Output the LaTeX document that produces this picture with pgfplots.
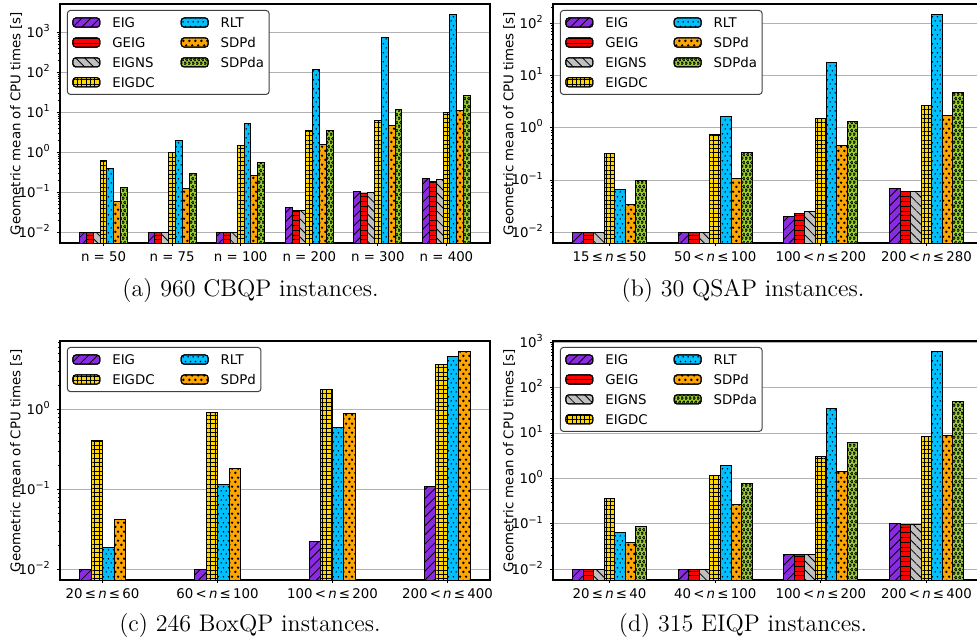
\documentclass[border=0pt]{standalone}
\usepackage{fontspec}
\usepackage{pgfplots}
\usepackage{pgfplotstable}
\pgfplotsset{compat=1.18}
\usetikzlibrary{patterns,patterns.meta}
\newfontfamily\dv{DejaVu Sans}
\newcommand\dvs{\dv\fontsize{6.67}{8}\selectfont}
\newcommand\tp[1]{10\raisebox{0.42em}{\fontsize{4.8}{5}\selectfont #1}}
\newcommand\nn{\textit{n}}

\definecolor{cEIG}{RGB}{138,43,226}
\definecolor{cGEIG}{RGB}{255,0,0}
\definecolor{cEIGNS}{RGB}{192,192,192}
\definecolor{cEIGDC}{RGB}{255,215,0}
\definecolor{cRLT}{RGB}{0,191,255}
\definecolor{cSDPd}{RGB}{255,165,0}
\definecolor{cSDPda}{RGB}{154,205,50}

\pgfdeclarepattern{name=rltdots, type=uncolored,
  bottom left={\pgfpoint{0pt}{0pt}}, top right={\pgfpoint{2.4pt}{4.3pt}},
  tile size={\pgfpoint{2.4pt}{4.3pt}},
  code={\pgfpathcircle{\pgfpoint{0.6pt}{1.075pt}}{0.42pt}
        \pgfpathcircle{\pgfpoint{1.8pt}{3.225pt}}{0.42pt}
        \pgfusepath{fill}}}
\pgfdeclarepattern{name=sdpddots, type=uncolored,
  bottom left={\pgfpoint{0pt}{0pt}}, top right={\pgfpoint{2.85pt}{4.35pt}},
  tile size={\pgfpoint{2.85pt}{4.35pt}},
  code={\pgfpathcircle{\pgfpoint{0.7125pt}{1.0875pt}}{0.68pt}
        \pgfpathcircle{\pgfpoint{2.1375pt}{3.2625pt}}{0.68pt}
        \pgfusepath{fill}}}
\pgfdeclarepattern{name=rings, type=uncolored,
  bottom left={\pgfpoint{0pt}{0pt}}, top right={\pgfpoint{2.2pt}{3.8pt}},
  tile size={\pgfpoint{2.2pt}{3.8pt}},
  code={\pgfsetlinewidth{0.4pt}
        \pgfpathcircle{\pgfpoint{0.55pt}{0.95pt}}{0.72pt}
        \pgfpathcircle{\pgfpoint{1.65pt}{2.85pt}}{0.72pt}
        \pgfusepath{stroke}}}

\tikzset{
 sEIG/.style={fill=cEIG, draw=black, line width=0.5pt, postaction={pattern={Lines[angle=45,distance=3.2pt,line width=0.4pt]}}},
 sGEIG/.style={fill=cGEIG, draw=black, line width=0.5pt, postaction={pattern={Lines[angle=0,distance=2.4pt,line width=0.4pt]}}},
 sEIGNS/.style={fill=cEIGNS, draw=black, line width=0.5pt, postaction={pattern={Lines[angle=-45,distance=3.2pt,line width=0.4pt]}}},
 sEIGDC/.style={fill=cEIGDC, draw=black, line width=0.5pt, postaction={pattern={Hatch[angle=0,distance=2.15pt,line width=0.35pt]}}},
 sRLT/.style={fill=cRLT, draw=black, line width=0.5pt, postaction={pattern=rltdots}},
 sSDPd/.style={fill=cSDPd, draw=black, line width=0.5pt, postaction={pattern=sdpddots}},
 sSDPda/.style={fill=cSDPda, draw=black, line width=0.5pt, postaction={pattern=rings}},
}

\pgfplotsset{
  every axis/.append style={
  scale only axis, width=215pt, height=119.5pt, anchor=south west,
  ybar=0pt, bar width=0.1,
  ymajorgrids, grid style={color=black!30, line width=0.5pt},
  axis line style={line width=0.55pt},
  tick align=outside, tick pos=left, major tick length=1.6pt, minor tick length=1pt,
  every tick/.style={black, line width=0.5pt},
  tick label style={font=\dvs},
  xticklabel style={inner sep=0pt, yshift=-2.35pt},
  yticklabel style={anchor=base east, inner sep=0pt, xshift=-3.35pt, yshift=-2.4pt},
  ylabel={Geometric mean of CPU times [s]},
  ylabel style={at={(axis description cs:-0.102,0.5)}, anchor=center, font=\dvs},
  legend columns=2, legend cell align=left,
  legend image code/.code={\draw[#1] (0pt,-2.3pt) rectangle (13.5pt,2.3pt); \path (19.5pt,0pt);},
  legend style={at={(0.016,0.975)}, anchor=north west, font=\dvs,
    draw=black!75, line width=0.5pt, rounded corners=1.5pt, fill=white,
    inner xsep=2.5pt, inner ysep=3.5pt, row sep=4.85pt,
    nodes={inner sep=0pt, text height=4.9pt, text depth=0pt},
    /tikz/every even column/.append style={column sep=13pt}},
  }
}

\pgfplotstableread{
x EIG GEIG EIGNS EIGDC RLT SDPd SDPda
0 0.01 0.01 0.01 0.63 0.40 0.060 0.133
1 0.01 0.01 0.01 1.00 2.0 0.126 0.287
2 0.01 0.01 0.01 1.44 5.2 0.26 0.56
3 0.0406 0.036 0.036 3.5 116 1.55 3.6
4 0.106 0.091 0.100 6.3 750 4.8 11.9
5 0.224 0.190 0.215 9.8 2820 11.2 26
}\tA
\pgfplotstableread{
x EIG GEIG EIGNS EIGDC RLT SDPd SDPda
0 0.01 0.01 0.01 0.326 0.0646 0.0344 0.100
1 0.01 0.01 0.01 0.76 1.66 0.108 0.34
2 0.0202 0.0234 0.0245 1.52 18 0.46 1.33
3 0.0696 0.060 0.060 2.7 149 1.74 4.8
}\tB
\pgfplotstableread{
x EIG EIGDC RLT SDPd
0 0.01 0.413 0.0189 0.0423
1 0.01 0.927 0.116 0.182
2 0.0226 1.8 0.60 0.90
3 0.108 3.73 4.7 5.38
}\tC
\pgfplotstableread{
x EIG GEIG EIGNS EIGDC RLT SDPd SDPda
0 0.01 0.01 0.01 0.366 0.0642 0.0394 0.0885
1 0.01 0.01 0.01 1.175 1.95 0.27 0.76
2 0.0214 0.0214 0.0214 3.08 34.6 1.42 6.27
3 0.103 0.095 0.095 8.5 622 8.94 49.3
}\tD

\begin{document}
\begin{tikzpicture}
\useasboundingbox (0,0) rectangle (488.5pt,321.5pt);
% (a)
\begin{axis}[ymode=log, log origin=infty,
  ytick={0.01,0.1,1,10,100,1000},
  yticklabels={\tp{−2},\tp{−1},\tp{0},\tp{1},\tp{2},\tp{3}},
  at={(30pt,200pt)}, xmin=-0.635, xmax=5.635,
  ymin=0.0054, ymax=5100,
  xtick={0,1,2,3,4,5},
  xticklabels={n = 50, n = 75, n = 100, n = 200, n = 300, n = 400}]
\addplot[sEIG, bar shift=-0.3] table[x=x,y=EIG]{\tA}; \addlegendentry{EIG}
\addplot[sRLT, bar shift=0.1] table[x=x,y=RLT]{\tA}; \addlegendentry{RLT}
\addplot[sGEIG, bar shift=-0.2] table[x=x,y=GEIG]{\tA}; \addlegendentry{GEIG}
\addplot[sSDPd, bar shift=0.2] table[x=x,y=SDPd]{\tA}; \addlegendentry{SDPd}
\addplot[sEIGNS, bar shift=-0.1] table[x=x,y=EIGNS]{\tA}; \addlegendentry{EIGNS}
\addplot[sSDPda, bar shift=0.3] table[x=x,y=SDPda]{\tA}; \addlegendentry{SDPda}
\addplot[sEIGDC, bar shift=0] table[x=x,y=EIGDC]{\tA}; \addlegendentry{EIGDC}
\end{axis}
% (b)
\begin{axis}[ymode=log, log origin=infty,
  ytick={0.01,0.1,1,10,100,1000},
  yticklabels={\tp{−2},\tp{−1},\tp{0},\tp{1},\tp{2},\tp{3}},
  at={(276.5pt,200pt)}, xmin=-0.535, xmax=3.535,
  ymin=0.00624, ymax=234,
  xtick={0,1,2,3},
  xticklabels={{15\,≤\,\nn\,≤\,50},{50\,<\,\nn\,≤\,100},{100\,<\,\nn\,≤\,200},{200\,<\,\nn\,≤\,280}}]
\addplot[sEIG, bar shift=-0.3] table[x=x,y=EIG]{\tB}; \addlegendentry{EIG}
\addplot[sRLT, bar shift=0.1] table[x=x,y=RLT]{\tB}; \addlegendentry{RLT}
\addplot[sGEIG, bar shift=-0.2] table[x=x,y=GEIG]{\tB}; \addlegendentry{GEIG}
\addplot[sSDPd, bar shift=0.2] table[x=x,y=SDPd]{\tB}; \addlegendentry{SDPd}
\addplot[sEIGNS, bar shift=-0.1] table[x=x,y=EIGNS]{\tB}; \addlegendentry{EIGNS}
\addplot[sSDPda, bar shift=0.3] table[x=x,y=SDPda]{\tB}; \addlegendentry{SDPda}
\addplot[sEIGDC, bar shift=0] table[x=x,y=EIGDC]{\tB}; \addlegendentry{EIGDC}
\end{axis}
% (c)
\begin{axis}[ymode=log, log origin=infty,
  ytick={0.01,0.1,1,10,100,1000},
  yticklabels={\tp{−2},\tp{−1},\tp{0},\tp{1},\tp{2},\tp{3}},
  at={(30pt,31.5pt)}, xmin=-0.37, xmax=3.37,
  ymin=0.00734, ymax=7.26,
  xtick={0,1,2,3},
  xticklabels={{20\,≤\,\nn\,≤\,60},{60\,<\,\nn\,≤\,100},{100\,<\,\nn\,≤\,200},{200\,<\,\nn\,≤\,400}}]
\addplot[sEIG, bar shift=-0.15] table[x=x,y=EIG]{\tC}; \addlegendentry{EIG}
\addplot[sRLT, bar shift=0.05] table[x=x,y=RLT]{\tC}; \addlegendentry{RLT}
\addplot[sEIGDC, bar shift=-0.05] table[x=x,y=EIGDC]{\tC}; \addlegendentry{EIGDC}
\addplot[sSDPd, bar shift=0.15] table[x=x,y=SDPd]{\tC}; \addlegendentry{SDPd}
\end{axis}
% (d)
\begin{axis}[ymode=log, log origin=infty,
  ytick={0.01,0.1,1,10,100,1000},
  yticklabels={\tp{−2},\tp{−1},\tp{0},\tp{1},\tp{2},\tp{3}},
  at={(276.5pt,31.5pt)}, xmin=-0.535, xmax=3.535,
  ymin=0.0058, ymax=1070,
  xtick={0,1,2,3},
  xticklabels={{20\,≤\,\nn\,≤\,40},{40\,<\,\nn\,≤\,100},{100\,<\,\nn\,≤\,200},{200\,<\,\nn\,≤\,400}}]
\addplot[sEIG, bar shift=-0.3] table[x=x,y=EIG]{\tD}; \addlegendentry{EIG}
\addplot[sRLT, bar shift=0.1] table[x=x,y=RLT]{\tD}; \addlegendentry{RLT}
\addplot[sGEIG, bar shift=-0.2] table[x=x,y=GEIG]{\tD}; \addlegendentry{GEIG}
\addplot[sSDPd, bar shift=0.2] table[x=x,y=SDPd]{\tD}; \addlegendentry{SDPd}
\addplot[sEIGNS, bar shift=-0.1] table[x=x,y=EIGNS]{\tD}; \addlegendentry{EIGNS}
\addplot[sSDPda, bar shift=0.3] table[x=x,y=SDPda]{\tD}; \addlegendentry{SDPda}
\addplot[sEIGDC, bar shift=0] table[x=x,y=EIGDC]{\tD}; \addlegendentry{EIGDC}
\end{axis}
\node[anchor=base, font=\fontsize{12}{14}\selectfont] at (125.25pt,173.5pt) {(a) 960 CBQP instances.};
\node[anchor=base, font=\fontsize{12}{14}\selectfont] at (371.5pt,173.5pt) {(b) 30 QSAP instances.};
\node[anchor=base, font=\fontsize{12}{14}\selectfont] at (125pt,5.65pt) {(c) 246 BoxQP instances.};
\node[anchor=base, font=\fontsize{12}{14}\selectfont] at (371.5pt,5.65pt) {(d) 315 EIQP instances.};
\end{tikzpicture}
\end{document}
